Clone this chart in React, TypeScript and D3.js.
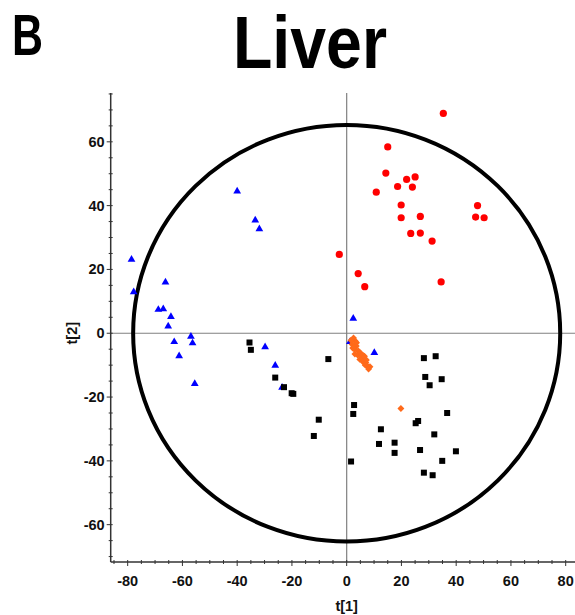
import React from 'react';
import * as d3 from 'd3';

// score plot values: [t1, t2]
const redPoints = [
  [35.3, 68.9], [15.0, 58.4], [14.3, 50.2], [21.9, 48.2], [25.0, 49.0], [18.6, 46.0],
  [24.0, 45.8], [10.8, 44.2], [19.9, 40.2], [47.8, 40.0], [19.9, 36.2], [26.9, 36.6],
  [47.1, 36.4], [50.2, 36.2], [23.4, 31.3], [26.9, 31.4], [31.2, 28.9], [34.5, 16.1],
  [4.2, 18.7], [6.6, 14.6], [-2.7, 24.7],
];

const bluePoints = [
  [-40.0, 44.5], [-33.4, 35.4], [-31.9, 32.7], [-78.6, 23.1], [-77.8, 12.9], [-66.2, 16.0],
  [-68.8, 7.4], [-67.0, 7.6], [-64.2, 5.2], [-65.2, 2.2], [-63.0, -2.7], [-56.9, -1.0],
  [-56.3, -3.1], [-61.2, -7.1], [-55.5, -15.8], [-29.8, -4.3], [-26.1, -10.1], [-23.6, -17.0],
  [2.4, 4.6], [1.2, -2.7], [10.1, -6.1],
];

const blackPoints = [
  [-35.5, -2.9], [-35.0, -5.2], [-26.1, -13.9], [-22.9, -16.9], [-20.1, -18.8], [-19.5, -19.0],
  [-6.7, -8.1], [-10.2, -27.1], [-12.0, -32.2], [1.6, -40.2], [28.2, -7.8], [32.5, -7.2],
  [28.7, -13.7], [34.7, -14.4], [30.3, -16.3], [2.7, -22.5], [2.4, -25.3], [36.7, -25.0],
  [25.2, -28.2], [26.1, -27.5], [12.5, -30.1], [32.0, -31.7], [11.8, -34.7], [17.5, -34.3],
  [17.5, -37.5], [26.8, -36.6], [39.9, -37.0], [34.9, -40.0], [28.2, -43.7], [31.4, -44.5],
];

const orangePoints = [
  [2.5, -1.5], [3.2, -2.5], [2.0, -3.5], [3.5, -4.0], [2.8, -5.0], [4.2, -5.5],
  [4.0, -6.8], [5.0, -6.2], [5.5, -7.5], [4.8, -8.2], [6.2, -8.0], [6.0, -9.0],
  [7.0, -9.2], [7.5, -10.2], [8.5, -10.5], [8.0, -11.2], [6.8, -10.0], [3.0, -6.5],
  [1.6, -2.2], [2.2, -4.6], [3.6, -3.0], [5.8, -6.8], [6.5, -7.2], [7.2, -8.4],
  [19.8, -23.6],
];

const xTicks = [-80, -60, -40, -20, 0, 20, 40, 60, 80];
const yTicks = [-60, -40, -20, 0, 20, 40, 60];

const App = () => {
  const ref = React.useRef(null);

  React.useEffect(() => {
    const svg = d3.select(ref.current);
    svg.selectAll('*').remove();

    const left = 110.7, right = 575, top = 93, bottom = 562;

    const x = d3.scaleLinear().domain([-86.2, 83.4]).range([left, right]);
    const y = d3.scaleLinear().domain([-71.7, 75.3]).range([bottom, top]);

    const font = "'Liberation Sans', Arial, sans-serif";

    svg.append('text')
      .attr('x', 12).attr('y', 55)
      .attr('font-family', font).attr('font-weight', 'bold')
      .attr('font-size', 57)
      .attr('textLength', 31).attr('lengthAdjust', 'spacingAndGlyphs')
      .text('B');

    svg.append('text')
      .attr('x', 233).attr('y', 68)
      .attr('font-family', font).attr('font-weight', 'bold')
      .attr('font-size', 74)
      .attr('textLength', 154).attr('lengthAdjust', 'spacingAndGlyphs')
      .text('Liver');

    // zero lines
    svg.append('line')
      .attr('x1', x(0)).attr('x2', x(0)).attr('y1', top).attr('y2', bottom)
      .attr('stroke', '#808080').attr('stroke-width', 1.2);
    svg.append('line')
      .attr('x1', left).attr('x2', right).attr('y1', y(0)).attr('y2', y(0))
      .attr('stroke', '#808080').attr('stroke-width', 1.2);

    // Hotelling ellipse
    svg.append('ellipse')
      .attr('cx', x(0)).attr('cy', y(0))
      .attr('rx', x(78) - x(0)).attr('ry', y(0) - y(65.3))
      .attr('fill', 'none').attr('stroke', '#000').attr('stroke-width', 4);

    // axes
    const xAxis = svg.append('g').attr('transform', `translate(0, ${bottom})`);
    xAxis.append('line').attr('x1', left).attr('x2', right).attr('stroke', '#333').attr('stroke-width', 1.5);
    xAxis.selectAll('.minor').data(d3.range(-85, 85, 5)).join('line')
      .attr('x1', d => x(d)).attr('x2', d => x(d))
      .attr('y1', -2).attr('y2', d => (d % 20 === 0 ? 4 : 2))
      .attr('stroke', '#333');
    xAxis.selectAll('.lab').data(xTicks).join('text')
      .attr('x', d => x(d)).attr('y', 24)
      .attr('text-anchor', 'middle')
      .attr('font-family', font).attr('font-weight', 'bold').attr('font-size', 14.5)
      .attr('fill', '#111')
      .text(d => d);

    const yAxis = svg.append('g').attr('transform', `translate(${left}, 0)`);
    yAxis.append('line').attr('y1', top).attr('y2', bottom).attr('stroke', '#333').attr('stroke-width', 1.5);
    yAxis.selectAll('.minor').data(d3.range(-70, 76, 5)).join('line')
      .attr('y1', d => y(d)).attr('y2', d => y(d))
      .attr('x1', d => (d % 20 === 0 ? -4 : -2)).attr('x2', 2)
      .attr('stroke', '#333');
    yAxis.selectAll('.lab').data(yTicks).join('text')
      .attr('x', -6).attr('y', d => y(d) + 5)
      .attr('text-anchor', 'end')
      .attr('font-family', font).attr('font-weight', 'bold').attr('font-size', 14.5)
      .attr('fill', '#111')
      .text(d => d);

    svg.append('text')
      .attr('x', x(0)).attr('y', 611)
      .attr('text-anchor', 'middle')
      .attr('font-family', font).attr('font-weight', 'bold').attr('font-size', 14.5)
      .attr('fill', '#111')
      .text('t[1]');
    svg.append('text')
      .attr('transform', `translate(77, ${y(0)}) rotate(-90)`)
      .attr('text-anchor', 'middle')
      .attr('font-family', font).attr('font-weight', 'bold').attr('font-size', 14.5)
      .attr('fill', '#111')
      .text('t[2]');

    // points
    svg.append('g').selectAll('circle').data(redPoints).join('circle')
      .attr('cx', d => x(d[0])).attr('cy', d => y(d[1])).attr('r', 3.6)
      .attr('fill', '#ff0000');

    svg.append('g').selectAll('path').data(bluePoints).join('path')
      .attr('transform', d => `translate(${x(d[0])}, ${y(d[1])})`)
      .attr('d', d3.symbol(d3.symbolTriangle, 26))
      .attr('fill', '#0000ff');

    svg.append('g').selectAll('rect').data(blackPoints).join('rect')
      .attr('x', d => x(d[0]) - 3).attr('y', d => y(d[1]) - 3)
      .attr('width', 6).attr('height', 6)
      .attr('fill', '#000');

    svg.append('g').selectAll('path').data(orangePoints).join('path')
      .attr('transform', d => `translate(${x(d[0])}, ${y(d[1])}) rotate(45)`)
      .attr('d', d3.symbol(d3.symbolSquare, 24))
      .attr('fill', '#ff6a1a');
  }, []);

  return (
    <svg ref={ref} width="575" height="615"
      style={{ position: 'absolute', left: 0, top: 0, background: '#fff' }}></svg>
  );
};

export default App;
